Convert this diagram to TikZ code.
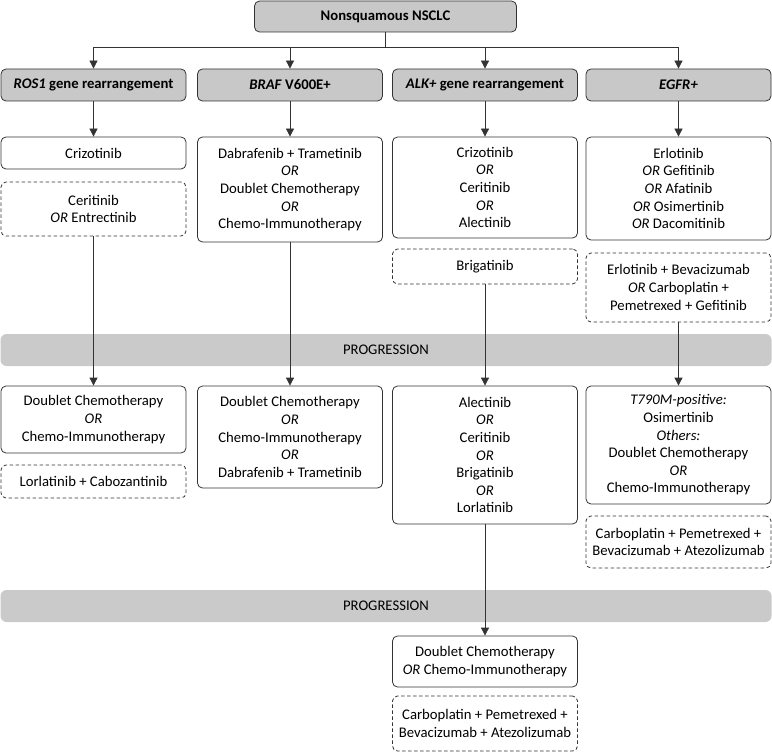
\documentclass[tikz,border=0pt]{standalone}
\usepackage{fontspec}
\setmainfont{Carlito}
\usetikzlibrary{arrows.meta}
\definecolor{linec}{HTML}{333333}
\definecolor{headc}{HTML}{C8C8C8}
\definecolor{barc}{HTML}{CACACA}
\begin{document}
\begin{tikzpicture}[x=1pt,y=-1pt,
  base/.style={draw=linec, line width=0.8pt, rounded corners=5pt, align=center, inner sep=0pt, font=\fontsize{14.7}{17.6}\selectfont, text=black},
  head/.style={base, fill=headc, minimum height=32pt, minimum width=185pt, font=\fontsize{14.7}{17.6}\selectfont\bfseries},
  solidbox/.style={base, fill=white, minimum width=185pt},
  dashbox/.style={base, fill=white, minimum width=185pt, dash pattern=on 3.5pt off 2.5pt},
  barbox/.style={fill=barc, draw=none, rounded corners=6pt, inner sep=0pt, minimum width=771pt, minimum height=32pt, font=\fontsize{14.7}{17.6}\selectfont},
  arr/.style={draw=linec, line width=0.8pt, -{Triangle[length=8pt,width=8pt]}},
  conn/.style={draw=linec, line width=0.8pt}
]
\useasboundingbox (0,0) rectangle (772,752);

% progression bars
\node[barbox] (bar1) at (386,350) {PROGRESSION};
\node[barbox] (bar2) at (386,606) {PROGRESSION};

% top
\node[head, minimum width=262pt, minimum height=31pt] (top) at (385.5,16.5) {Nonsquamous NSCLC};

% headers
\node[head] (h1) at (93.5,85) {\textit{ROS1} gene rearrangement};
\node[head] (h2) at (290,85) {\textit{BRAF} V600E+};
\node[head] (h3) at (485,85) {\textit{ALK+} gene rearrangement};
\node[head] (h4) at (678.5,85) {\textit{EGFR+}};

% row 2
\node[solidbox, minimum height=32pt] (c1a) at (93.5,153) {Crizotinib};
\node[dashbox, minimum height=54pt] (c1b) at (93.5,209) {Ceritinib\\\textit{OR} Entrectinib};
\node[solidbox, minimum height=105pt] (c2a) at (290,189.5) {Dabrafenib + Trametinib\\\textit{OR}\\Doublet Chemotherapy\\\textit{OR}\\Chemo-Immunotherapy};
\node[solidbox, minimum height=101pt] (c3a) at (485,187.5) {Crizotinib\\\textit{OR}\\Ceritinib\\\textit{OR}\\Alectinib};
\node[dashbox, minimum height=35pt] (c3b) at (485,266.5) {Brigatinib};
\node[solidbox, minimum height=103pt] (c4a) at (678.5,188.5) {Erlotinib\\\textit{OR} Gefitinib\\\textit{OR} Afatinib\\\textit{OR} Osimertinib\\\textit{OR} Dacomitinib};
\node[dashbox, minimum height=69pt] (c4b) at (678.5,287.5) {Erlotinib + Bevacizumab\\\textit{OR} Carboplatin +\\Pemetrexed + Gefitinib};

% row 3
\node[solidbox, minimum height=67pt] (c1c) at (93.5,419.5) {Doublet Chemotherapy\\\textit{OR}\\Chemo-Immunotherapy};
\node[dashbox, minimum height=33pt] (c1d) at (93.5,481.5) {Lorlatinib + Cabozantinib};
\node[solidbox, minimum height=102pt] (c2c) at (290,437) {Doublet Chemotherapy\\\textit{OR}\\Chemo-Immunotherapy\\\textit{OR}\\Dabrafenib + Trametinib};
\node[solidbox, minimum height=138pt] (c3c) at (485,455) {Alectinib\\\textit{OR}\\Ceritinib\\\textit{OR}\\Brigatinib\\\textit{OR}\\Lorlatinib};
\node[solidbox, minimum height=118pt] (c4c) at (678.5,445) {\textit{T790M-positive:}\\Osimertinib\\\textit{Others:}\\Doublet Chemotherapy\\\textit{OR}\\Chemo-Immunotherapy};
\node[dashbox, minimum height=52pt] (c4d) at (678.5,542) {Carboplatin + Pemetrexed +\\Bevacizumab + Atezolizumab};

% row 4
\node[solidbox, minimum height=51pt] (c3d) at (485,661.5) {Doublet Chemotherapy\\\textit{OR} Chemo-Immunotherapy};
\node[dashbox, minimum height=55pt] (c3e) at (485,723.5) {Carboplatin + Pemetrexed +\\Bevacizumab + Atezolizumab};

% connectors
\coordinate (bus) at (385.5,47);
\draw[conn] (top.south) -- (bus);
\draw[arr] (bus) -| (h1.north);
\draw[arr] (bus) -| (h2.north);
\draw[arr] (bus) -| (h3.north);
\draw[arr] (bus) -| (h4.north);

\draw[arr] (h1) -- (c1a);
\draw[arr] (h2) -- (c2a);
\draw[arr] (h3) -- (c3a);
\draw[arr] (h4) -- (c4a);

\draw[arr] (c1b) -- (c1c);
\draw[arr] (c2a) -- (c2c);
\draw[arr] (c3b) -- (c3c);
\draw[arr] (c4b) -- (c4c);
\draw[arr] (c3c) -- (c3d);
\end{tikzpicture}
\end{document}
